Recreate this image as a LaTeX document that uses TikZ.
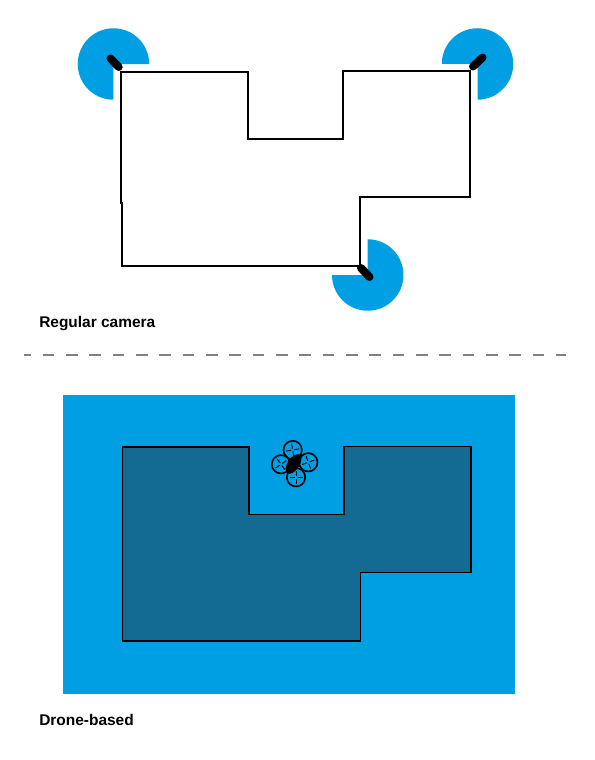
\documentclass[tikz,border=0pt]{standalone}
\usepackage{fontspec}
\setmainfont{Liberation Sans}
\definecolor{skyb}{HTML}{009FE3}
\definecolor{darkb}{HTML}{136B93}
\definecolor{dashg}{HTML}{808080}
\tikzset{
  wedgefill/.style={fill=skyb,draw=none},
  wall/.style={draw=black,line width=1.5pt,line join=miter},
  thinwall/.style={draw=black,line width=0.85pt,fill=darkb,line join=miter},
  cambody/.style={draw=black,line width=6pt,line cap=round},
  rotor/.style={draw=black,line width=1.2pt},
  blade/.style={draw=black,line width=0.7pt},
  caption/.style={anchor=base west,inner sep=0pt,font=\fontsize{11.6pt}{13pt}\selectfont\bfseries},
}
\newcommand{\drawrotor}[3]{%
  \draw[rotor] (#1,#2) circle[radius=6.9pt];
  \begin{scope}[shift={(#1,#2)},rotate=#3]
    \draw[blade] (1.5,0) -- (6.5,0);
    \draw[blade] (-1.5,0) -- (-6.5,0);
    \draw[blade] (0,1.5) -- (0,6.5);
    \draw[blade] (0,-1.5) -- (0,-6.5);
  \end{scope}}
\begin{document}
\begin{tikzpicture}[x=0.75pt,y=-0.75pt]
\useasboundingbox (0,0) rectangle (595,760);
% cameras: coverage
\fill[wedgefill] (113.5,64) -- (149.2,64) arc[start angle=0,end angle=270,radius=26.8pt] -- cycle;
\fill[wedgefill] (477.5,64) -- (477.5,99.7) arc[start angle=-90,end angle=180,radius=26.8pt] -- cycle;
\fill[wedgefill] (367.7,275) -- (332,275) arc[start angle=180,end angle=450,radius=26.8pt] -- cycle;
% floor plan
\draw[wall] (121,71.5) -- (248,71.5) -- (248,139) -- (343,139) -- (343,71) -- (470,71) -- (470,197) -- (359.5,197) -- (359.5,266) -- (122,266) -- (122,203) -- (121,203) -- cycle;
% camera bodies
\draw[cambody] (110.5,58.5) -- (118.7,67);
\draw[cambody] (482.5,57.5) -- (473,66.5);
\draw[cambody] (361,268) -- (369.5,277);
\node[caption] (regular) at (39,327) {Regular camera};
\draw[dashg,line width=1.6pt,dash pattern=on 8.75pt off 8.75pt,dash phase=3.2pt] (23.5,355) -- (566,355);
% drone-based coverage
\fill[skyb] (63,395) rectangle (515,694);
\draw[thinwall] (122.5,447) -- (249,447) -- (249,514.5) -- (344,514.5) -- (344,446.5) -- (471,446.5) -- (471,572.5) -- (360.5,572.5) -- (360.5,641) -- (122.5,641) -- cycle;
% drone
\drawrotor{292.7}{450}{10}
\drawrotor{281}{464.3}{35}
\drawrotor{308.3}{462.3}{20}
\drawrotor{296}{477.3}{0}
\fill[black,rotate around={56:(293.5,464)}] (293.5,464) ellipse[x radius=8.4pt,y radius=4.4pt];
\node[caption] (drone) at (39,725) {Drone-based};
\end{tikzpicture}
\end{document}
